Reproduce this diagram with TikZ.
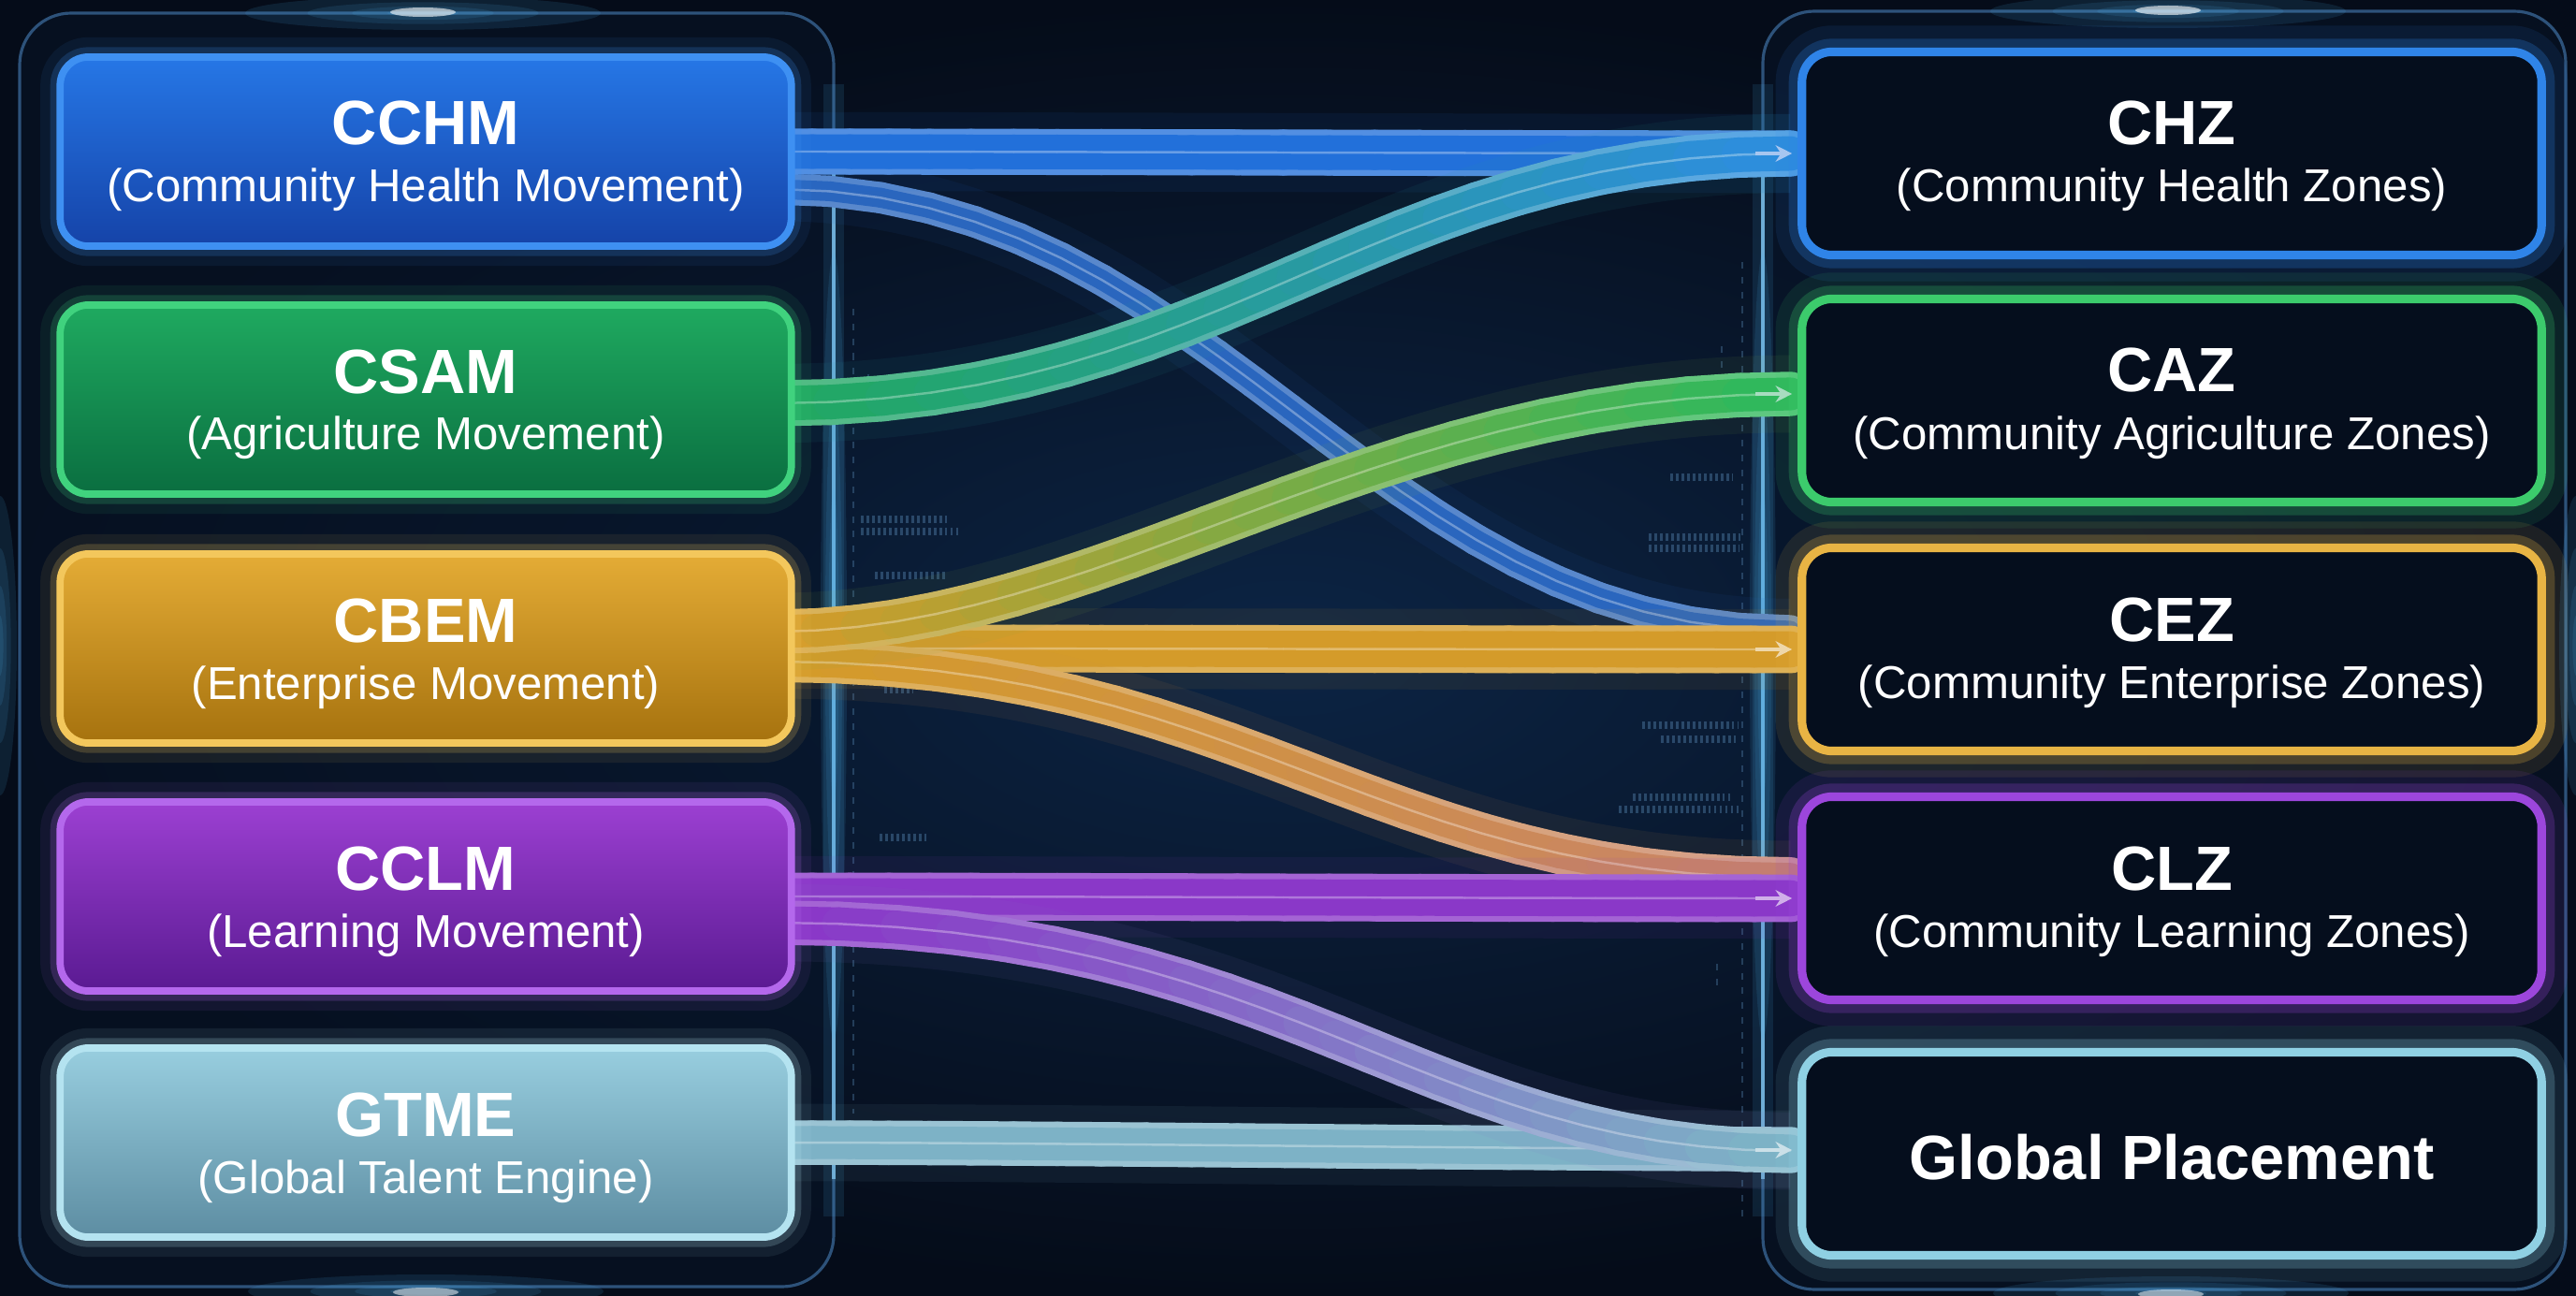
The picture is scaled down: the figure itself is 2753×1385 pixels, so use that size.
\documentclass[tikz,border=0pt]{standalone}
\usepackage{fontspec}
\setmainfont{Liberation Sans}
\usetikzlibrary{calc,arrows.meta}
\pgfdeclarelayer{back}
\pgfdeclarelayer{rib}
\pgfsetlayers{back,rib,main}

\definecolor{bgdark}{HTML}{050C19}
\definecolor{bgmid}{HTML}{0C2444}
\definecolor{panelfill}{HTML}{071428}
\definecolor{panelline}{HTML}{2D527A}
\definecolor{edgeglow}{HTML}{4FB4EE}
\definecolor{datac}{HTML}{5A8CB8}
\definecolor{rfill}{HTML}{050E1D}
% left boxes
\definecolor{cchmT}{HTML}{2677E6}\definecolor{cchmB}{HTML}{1543A8}\definecolor{cchmD}{HTML}{3E90F2}
\definecolor{csamT}{HTML}{1FAA60}\definecolor{csamB}{HTML}{0A6E40}\definecolor{csamD}{HTML}{40D27E}
\definecolor{cbemT}{HTML}{E4AC36}\definecolor{cbemB}{HTML}{A6720E}\definecolor{cbemD}{HTML}{F3C75C}
\definecolor{cclmT}{HTML}{9C40D2}\definecolor{cclmB}{HTML}{5A1A92}\definecolor{cclmD}{HTML}{B468EC}
\definecolor{gtmeT}{HTML}{98CEDF}\definecolor{gtmeB}{HTML}{5D8DA2}\definecolor{gtmeD}{HTML}{B4E3F0}
% right boxes
\definecolor{chzc}{HTML}{2F84E8}
\definecolor{cazc}{HTML}{3CCB6C}
\definecolor{cezc}{HTML}{E8B444}
\definecolor{clzc}{HTML}{9C46DC}
\definecolor{gpc}{HTML}{8FD0E3}
% ribbons
\definecolor{bluerb}{HTML}{2270DA}
\definecolor{bluecv}{HTML}{2A66BE}
\definecolor{goldrb}{HTML}{D49B2A}
\definecolor{pinkrb}{HTML}{C98468}
\definecolor{purprb}{HTML}{8A38C8}
\definecolor{steelrb}{HTML}{7DB2C6}
\definecolor{greenrb}{HTML}{22A862}
\definecolor{cyanrb}{HTML}{2D8EDC}
\definecolor{greenrbb}{HTML}{30B85C}

% ribbon: start, ctrl1, ctrl2, end, colour A, colour B, width (pt)
\newcommand\ribbon[7]{%
  \path #1 .. controls #2 and #3 .. #4
    foreach \k [evaluate=\k as \ppos using \k/24] in {0,...,24} {coordinate[pos=\ppos] (q\k)};
  \draw[line width=#7pt+10pt, color=#5!50!#6, opacity=0.08] #1 .. controls #2 and #3 .. #4;
  \foreach \k [count=\nn from 1] in {0,...,23}{%
    \pgfmathtruncatemacro\pc{round(\k*100/23)}%
    \draw[line width=#7pt, line cap=round, color=#6!\pc!#5!78!white] (q\k) -- (q\nn);}
  \foreach \k [count=\nn from 1] in {0,...,23}{%
    \pgfmathtruncatemacro\pc{round(\k*100/23)}%
    \draw[line width=#7pt-3.5pt, line cap=round, color=#6!\pc!#5] (q\k) -- (q\nn);}
  \foreach \k [count=\nn from 1] in {0,...,23}{%
    \pgfmathtruncatemacro\pc{round(\k*100/23)}%
    \draw[line width=0.7pt, line cap=round, color=#6!\pc!#5!68!white] (q\k) -- (q\nn);}
}
\newcommand\glowspot[3]{%
  \foreach \s in {1,0.65,0.4,0.2}{\fill[edgeglow, opacity=0.12] #1 ellipse [x radius={#2*\s}, y radius={#3*\s}];}}

\begin{document}
\begin{tikzpicture}[x=0.01cm,y=-0.01cm,
  lbox/.style args={#1/#2/#3}{rectangle, rounded corners=0.3cm, minimum width=7.81cm, minimum height=2.02cm,
     top color=#1, bottom color=#2, draw=#3, line width=2.2pt,
     preaction={draw=#3, line width=12pt, opacity=0.08},
     preaction={draw=#3, line width=6pt, opacity=0.2}},
  rbox/.style={rectangle, rounded corners=0.32cm, minimum width=7.9cm, minimum height=2.17cm,
     fill=rfill, draw=#1, line width=2.6pt,
     preaction={draw=#1, line width=16pt, opacity=0.1},
     preaction={draw=#1, line width=8pt, opacity=0.24}},
  ttl/.style={text=white, inner sep=0pt, anchor=base, font=\fontsize{19}{22}\selectfont\bfseries},
  sub/.style={text=white, inner sep=0pt, anchor=base, font=\fontsize{14}{17}\selectfont},
  tipst/.style={-{Stealth[length=5pt,width=5pt]}, line width=0.9pt, color=#1!40!white},
  panel/.style={rounded corners=0.55cm, fill=panelfill, fill opacity=0.5, draw=panelline, line width=0.9pt},
  datadash/.style={datac, opacity=0.35, line width=0.7pt, dash pattern=on 2pt off 2.5pt},
  databar/.style={datac, opacity=0.4, line width=2pt, dash pattern=on 0.8pt off 0.9pt}
]
\useasboundingbox (0,0) rectangle (2753,1385);

% ---------- nodes ----------
\node[lbox=cchmT/cchmB/cchmD] (cchm) at (455,162) {};
\node[lbox=csamT/csamB/csamD] (csam) at (455,427) {};
\node[lbox=cbemT/cbemB/cbemD] (cbem) at (455,693) {};
\node[lbox=cclmT/cclmB/cclmD] (cclm) at (455,958) {};
\node[lbox=gtmeT/gtmeB/gtmeD] (gtme) at (455,1221) {};

\node[rbox=chzc] (chz) at (2321,164) {};
\node[rbox=cazc] (caz) at (2321,428) {};
\node[rbox=cezc] (cez) at (2321,694) {};
\node[rbox=clzc] (clz) at (2321,960) {};
\node[rbox=gpc]  (gp)  at (2321,1233) {};

\node[ttl] (cchm-t) at ($(cchm.center)+(0,-7)$) {CCHM};
\node[sub] (cchm-s) at ($(cchm.center)+(0,54)$) {(Community Health Movement)};
\node[ttl] (csam-t) at ($(csam.center)+(0,-7)$) {CSAM};
\node[sub] (csam-s) at ($(csam.center)+(0,54)$) {(Agriculture Movement)};
\node[ttl] (cbem-t) at ($(cbem.center)+(0,-7)$) {CBEM};
\node[sub] (cbem-s) at ($(cbem.center)+(0,54)$) {(Enterprise Movement)};
\node[ttl] (cclm-t) at ($(cclm.center)+(0,-7)$) {CCLM};
\node[sub] (cclm-s) at ($(cclm.center)+(0,54)$) {(Learning Movement)};
\node[ttl] (gtme-t) at ($(gtme.center)+(0,-7)$) {GTME};
\node[sub] (gtme-s) at ($(gtme.center)+(0,54)$) {(Global Talent Engine)};

\node[ttl] (chz-t) at ($(chz.center)+(0,-9)$) {CHZ};
\node[sub] (chz-s) at ($(chz.center)+(0,52)$) {(Community Health Zones)};
\node[ttl] (caz-t) at ($(caz.center)+(0,-9)$) {CAZ};
\node[sub] (caz-s) at ($(caz.center)+(0,52)$) {(Community Agriculture Zones)};
\node[ttl] (cez-t) at ($(cez.center)+(0,-9)$) {CEZ};
\node[sub] (cez-s) at ($(cez.center)+(0,52)$) {(Community Enterprise Zones)};
\node[ttl] (clz-t) at ($(clz.center)+(0,-9)$) {CLZ};
\node[sub] (clz-s) at ($(clz.center)+(0,52)$) {(Community Learning Zones)};
\node[ttl] (gp-t) at ($(gp.center)+(0,27)$) {Global Placement};

% arrow tips at the zone entries
\draw[tipst=bluerb] ($(chz.west)+(-45,0)$) -- ($(chz.west)+(-6,0)$);
\draw[tipst=greenrb] ($(caz.west)+(-45,-7)$) -- ($(caz.west)+(-6,-7)$);
\draw[tipst=goldrb] ($(cez.west)+(-45,0)$) -- ($(cez.west)+(-6,0)$);
\draw[tipst=purprb] ($(clz.west)+(-45,0)$) -- ($(clz.west)+(-6,0)$);
\draw[tipst=steelrb] ($(gp.west)+(-45,-4)$) -- ($(gp.west)+(-6,-4)$);

% ---------- background ----------
\begin{pgfonlayer}{back}
  \fill[bgdark] (0,0) rectangle (2753,1385);
  \shade[inner color=bgmid, outer color=bgdark] (0,0) rectangle (2753,1385);
  \draw[panel] (21,14) rectangle (891,1375);
  \draw[panel] (1884,12) rectangle (2742,1378);
  % glowing inner edges
  \draw[edgeglow, line width=6pt, opacity=0.12] (891,90) -- (891,1300);
  \draw[edgeglow, line width=6pt, opacity=0.12] (1884,90) -- (1884,1300);
  \draw[edgeglow!70!white, line width=1pt, opacity=0.75] (891,150) -- (891,1260);
  \draw[edgeglow!70!white, line width=1pt, opacity=0.75] (1884,150) -- (1884,1260);
  \glowspot{(891,690)}{14}{420}
  \glowspot{(1884,690)}{14}{420}
  % glow spots
  \glowspot{(452,14)}{190}{18}
  \glowspot{(2317,12)}{190}{18}
  \glowspot{(455,1380)}{190}{18}
  \glowspot{(2320,1382)}{190}{18}
  \glowspot{(0,690)}{18}{160}
  \glowspot{(2753,690)}{18}{160}
  \fill[white, opacity=0.6] (452,13) ellipse [x radius=35, y radius=5];
  \fill[white, opacity=0.6] (2317,11) ellipse [x radius=35, y radius=5];
  \fill[white, opacity=0.5] (455,1381) ellipse [x radius=35, y radius=5];
  \fill[white, opacity=0.5] (2320,1383) ellipse [x radius=35, y radius=5];
  % faint data marks
  \draw[datadash] (912,330) -- (912,1190);
  \draw[datadash] (1862,280) -- (1862,1300);
  \draw[databar] (920,555) -- (1012,555);
  \draw[databar] (920,568) -- (1025,568);
  \draw[databar] (935,615) -- (1012,615);
  \draw[databar] (935,650) -- (1000,650);
  \draw[databar] (945,737) -- (975,737);
  \draw[databar] (940,895) -- (990,895);
  \draw[databar] (1785,510) -- (1852,510);
  \draw[databar] (1762,574) -- (1860,574);
  \draw[databar] (1762,586) -- (1858,586);
  \draw[databar] (1755,775) -- (1858,775);
  \draw[databar] (1775,790) -- (1855,790);
  \draw[databar] (1745,852) -- (1850,852);
  \draw[databar] (1730,865) -- (1860,865);
  \draw[datadash] (928,400) -- (928,430);
  \draw[datadash] (1840,370) -- (1840,400);
  \draw[datadash] (1835,1030) -- (1835,1060);
\end{pgfonlayer}

% ---------- ribbons ----------
\begin{pgfonlayer}{rib}
  % CCHM -> CEZ (under)
  \ribbon{($(cchm.east)+(-20,40)$)}{+(470,0)}{+(-450,0)}{($(cez.west)+(-8,-20)$)}{bluecv}{bluecv}{9.5}
  % CCHM -> CHZ
  \ribbon{($(cchm.east)+(-20,0)$)}{+(300,0)}{+(-300,0)}{($(chz.west)+(-8,0)$)}{bluerb}{bluerb}{14}
  % CBEM -> CEZ
  \ribbon{($(cbem.east)+(-20,0)$)}{+(300,0)}{+(-300,0)}{($(cez.west)+(-8,0)$)}{goldrb}{goldrb}{14.5}
  % CBEM -> CLZ
  \ribbon{($(cbem.east)+(-20,14)$)}{+(500,0)}{+(-450,0)}{($(clz.west)+(-8,-22)$)}{goldrb}{pinkrb}{12.5}
  % CCLM -> CLZ
  \ribbon{($(cclm.east)+(-20,0)$)}{+(300,0)}{+(-300,0)}{($(clz.west)+(-8,0)$)}{purprb}{purprb}{14.5}
  % GTME -> Global Placement
  \ribbon{($(gtme.east)+(-20,0)$)}{+(300,0)}{+(-300,0)}{($(gp.west)+(-8,-5)$)}{steelrb}{steelrb}{13.5}
  % CCLM -> Global Placement
  \ribbon{($(cclm.east)+(-20,28)$)}{+(550,0)}{+(-400,0)}{($(gp.west)+(-8,-3)$)}{purprb}{steelrb}{13.5}
  % CSAM -> CHZ
  \ribbon{($(csam.east)+(-20,4)$)}{+(480,0)}{+(-450,0)}{($(chz.west)+(-8,0)$)}{greenrb}{cyanrb}{14}
  % CBEM -> CAZ
  \ribbon{($(cbem.east)+(-20,-18)$)}{+(350,0)}{+(-450,0)}{($(caz.west)+(-8,-7)$)}{goldrb}{greenrbb}{13.5}
\end{pgfonlayer}
\end{tikzpicture}
\end{document}
